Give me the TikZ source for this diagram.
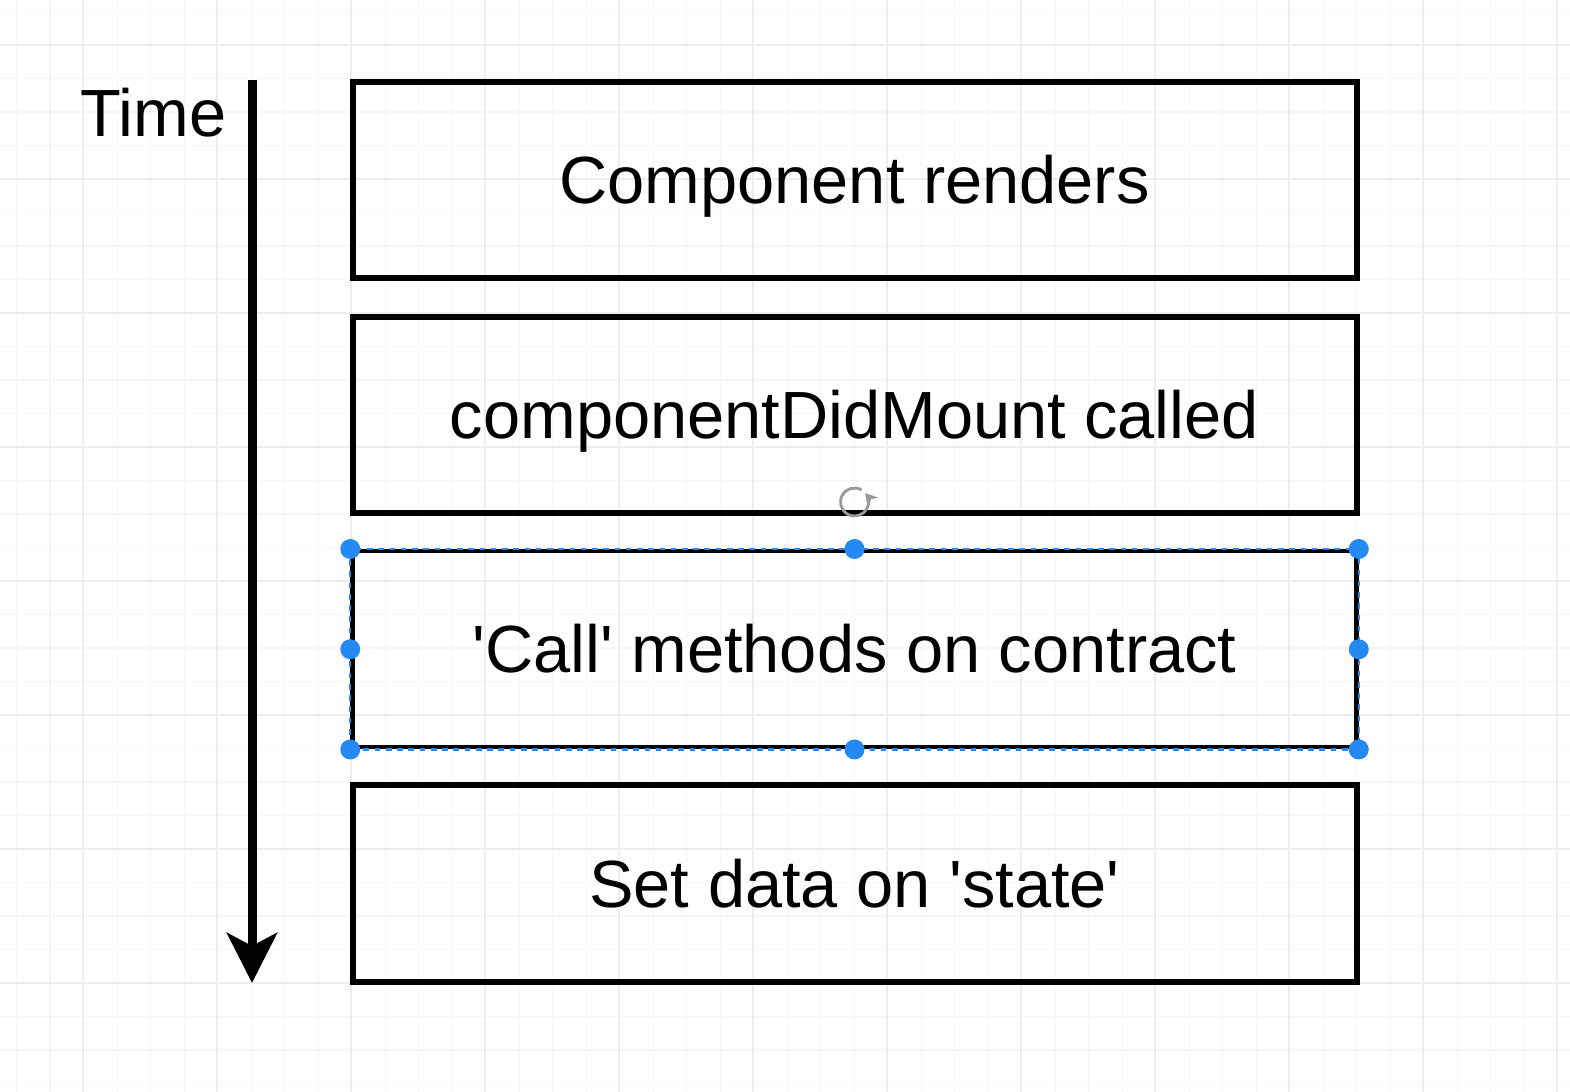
\documentclass[tikz,border=0pt]{standalone}
\usepackage{fontspec}
\setmainfont{Liberation Sans}
\usepackage{xcolor}
\usetikzlibrary{arrows.meta,positioning}
\definecolor{gridminor}{RGB}{246,246,249}
\definecolor{gridmajor}{RGB}{236,236,241}
\definecolor{handleblue}{RGB}{36,137,243}
\tikzset{
  stepbox/.style={draw,rectangle,line width=0.06cm,minimum width=10.04cm,minimum height=1.96cm,
    inner sep=0pt,text height=0.61cm,text depth=0.14cm,font=\fontsize{19}{23}\selectfont},
  selectedbox/.style={stepbox,line width=0.045cm},
  selection/.style={handleblue,line width=0.7pt,dash pattern=on 1.6pt off 1.6pt},
  handle/.style={circle,fill=handleblue,inner sep=0pt,minimum size=0.2cm},
  timeline/.style={line width=0.09cm,-{Stealth[length=0.5cm,width=0.5cm,inset=0.13cm]}},
  timelabel/.style={inner sep=0pt,font=\fontsize{19}{23}\selectfont}
}
\begin{document}
\begin{tikzpicture}
  \useasboundingbox (0,0) rectangle (15.70,-10.92);
  \fill[white] (0,0) rectangle (15.70,-10.92);
  \foreach \i in {0,...,46}
    \draw[gridminor,line width=0.4pt] (0.167+0.335*\i,0) -- (0.167+0.335*\i,-10.92);
  \foreach \j in {0,...,32}
    \draw[gridminor,line width=0.4pt] (0,-0.115-0.335*\j) -- (15.70,-0.115-0.335*\j);
  \foreach \i in {0,...,11}
    \draw[gridmajor,line width=0.5pt] (0.833+1.34*\i,0) -- (0.833+1.34*\i,-10.92);
  \foreach \j in {0,...,7}
    \draw[gridmajor,line width=0.5pt] (0,-0.45-1.34*\j) -- (15.70,-0.45-1.34*\j);

  \node[stepbox] (render) at (8.545,-1.80) {Component renders};
  \node[stepbox,below=0.33cm of render] (mount) {componentDidMount called};
  \node[selectedbox,below=0.33cm of mount] (call) {\textquotesingle Call\textquotesingle{} methods on contract};
  \node[stepbox,below=0.33cm of call] (state) {Set data on \textquotesingle state\textquotesingle};

  \coordinate (t0) at (2.52,-0.80);
  \coordinate (t1) at (2.52,-9.83);
  \draw[timeline] (t0) -- (t1);
  \node[timelabel,anchor=base east] (time) at (2.27,-1.37) {Time};

  \draw[selection] (call.north west) rectangle (call.south east);
  \foreach \a in {north west,north,north east,west,east,south west,south,south east}
    \node[handle] at (call.\a) {};

  \coordinate[above=0.47cm of call.north] (rot);
  \draw[gray!80,line width=0.8pt,-{Stealth[length=1.2mm,width=1.4mm]}]
    ([shift={(60:0.14cm)}]rot) arc[start angle=60,end angle=400,radius=0.14cm];
\end{tikzpicture}
\end{document}
